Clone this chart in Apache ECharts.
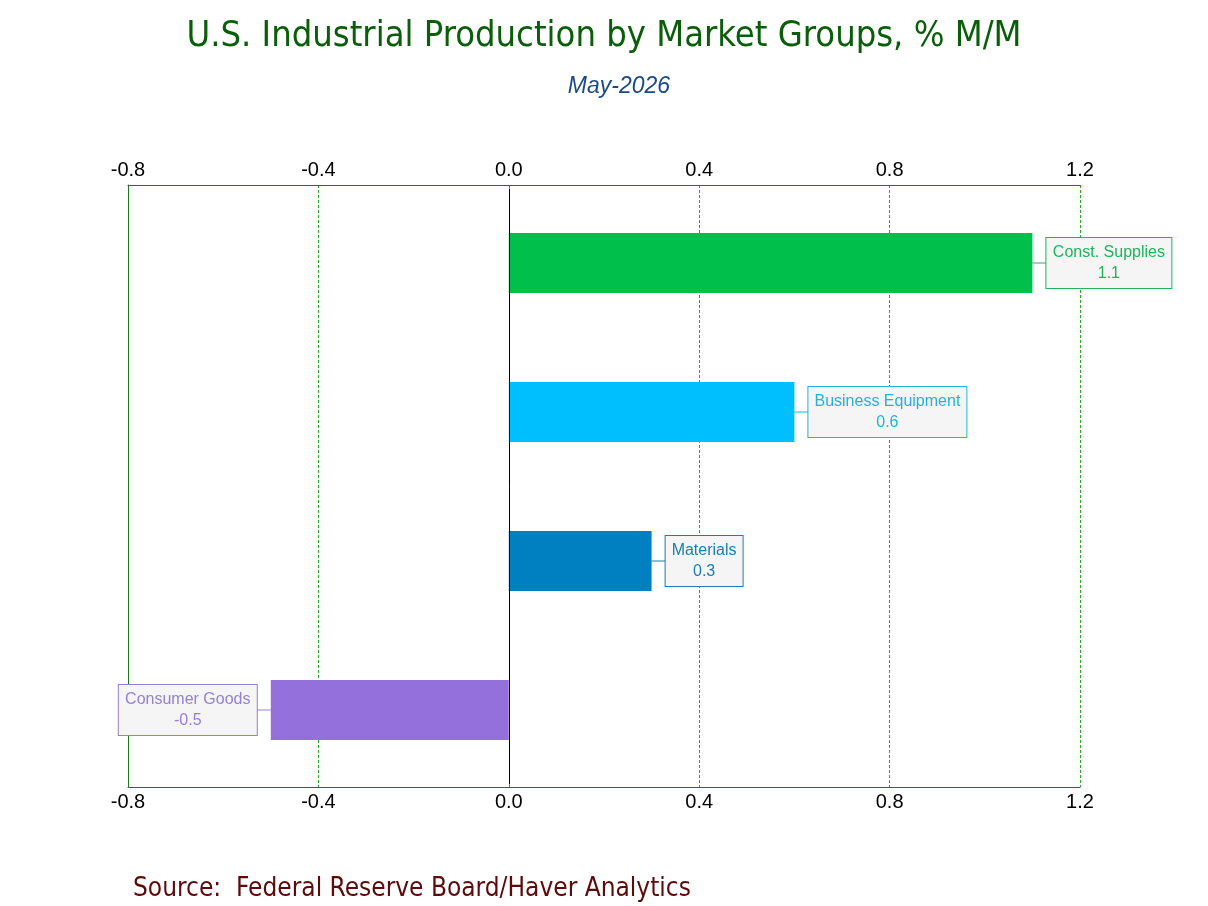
<!DOCTYPE html>
<html><head><meta charset="utf-8">
<script src="https://cdn.jsdelivr.net/npm/echarts@6/dist/echarts.min.js"></script>
<style>html,body{margin:0;padding:0;background:#fff}#c{width:1208px;height:906px}</style>
</head><body><div id="c"></div>
<script>
const categories = ['Const. Supplies', 'Business Equipment', 'Materials', 'Consumer Goods'];
const values = [1.1, 0.6, 0.3, -0.5];
const barColors = ['#00c04b', '#00bfff', '#0080c0', '#9370db'];
const labelColors = ['#22b25c', '#1fb4dc', '#1a7db5', '#9580d2'];
const xTicks = [-0.8, -0.4, 0.0, 0.4, 0.8, 1.2];

const chart = echarts.init(document.getElementById('c'));
const connector = 14;
const labelFont = 'Liberation Sans, Arial, sans-serif';
const labelSize = 16;

const ctx = document.createElement('canvas').getContext('2d');
ctx.font = labelSize + 'px ' + labelFont;
const measure = s => Math.ceil(ctx.measureText(s).width);

const axisLabel = { color: '#000', fontFamily: 'Liberation Sans, Arial', fontSize: 20, margin: 5,
  formatter: v => v.toFixed(1) };
const xMin = xTicks[0], xMax = xTicks[xTicks.length - 1];

chart.setOption({
  animation: false,
  title: [
    { text: 'U.S. Industrial Production by Market Groups, % M/M', left: 599, top: 14, textAlign: 'center',
      textStyle: { color: '#0a5e0a', fontFamily: 'DejaVu Sans Condensed', fontWeight: 'normal', fontSize: 36 } },
    { text: 'May-2026', left: 614, top: 70, textAlign: 'center',
      textStyle: { color: '#1b4a8a', fontFamily: 'Liberation Sans, Arial', fontStyle: 'italic', fontWeight: 'normal', fontSize: 23 } },
    { text: 'Source:  Federal Reserve Board/Haver Analytics', left: 128, top: 871,
      textStyle: { color: '#5c0a0a', fontFamily: 'DejaVu Sans Condensed', fontWeight: 'normal', fontSize: 26 } }
  ],
  grid: [
    { left: 128, right: 128, top: 185, bottom: 119 },
    { left: 128, right: 128, top: 188.5, bottom: 121.5 }
  ],
  xAxis: [
    { type: 'value', gridIndex: 0, min: xMin, max: xMax, interval: 0.4, position: 'bottom',
      axisTick: { show: false }, axisLabel: axisLabel,
      axisLine: { show: true, lineStyle: { color: '#1a7a1a', width: 1 } },
      splitLine: { show: true, lineStyle: { color: '#22aa22', type: [3, 2], width: 1 } } },
    { type: 'value', gridIndex: 0, min: xMin, max: xMax, interval: 0.4, position: 'top',
      axisTick: { show: false }, axisLabel: axisLabel,
      axisLine: { show: true, lineStyle: { color: '#1a7a1a', width: 1 } },
      splitLine: { show: false } },
    { type: 'value', gridIndex: 1, min: xMin, max: xMax, interval: 0.4, show: false }
  ],
  yAxis: [
    { type: 'category', gridIndex: 0, data: categories, inverse: true,
      axisLine: { show: true, onZero: false, lineStyle: { color: '#1a7a1a', width: 1 } },
      axisTick: { show: false }, axisLabel: { show: false }, splitLine: { show: false } },
    { type: 'category', gridIndex: 1, data: categories, inverse: true, show: false }
  ],
  series: [
    {
      type: 'custom', xAxisIndex: 2, yAxisIndex: 1, z: 1, silent: true,
      data: values.map((v, i) => [v, i]),
      renderItem: (params, api) => {
        const p = api.coord([api.value(0), api.value(1)]);
        const dir = api.value(0) >= 0 ? 1 : -1;
        return { type: 'line', shape: { x1: p[0], y1: p[1], x2: p[0] + dir * connector, y2: p[1] },
          style: { stroke: labelColors[params.dataIndex], lineWidth: 1 } };
      }
    },
    {
      type: 'bar', xAxisIndex: 2, yAxisIndex: 1, barWidth: 60, z: 3,
      data: values.map((v, i) => {
        const l1 = categories[i], l2 = v.toFixed(1);
        const w = Math.max(measure(l1), measure(l2));
        const st = { width: w, align: 'center', color: labelColors[i], fontFamily: labelFont,
          fontSize: labelSize, lineHeight: 21 };
        return {
          value: v,
          itemStyle: { color: barColors[i] },
          label: {
            show: true, position: v >= 0 ? 'right' : 'left', distance: connector,
            formatter: '{a|' + l1 + '}\n{a|' + l2 + '}',
            rich: { a: st },
            backgroundColor: '#f5f5f5', borderColor: labelColors[i], borderWidth: 1,
            padding: [4, 6, 4, 6]
          }
        };
      }),
      markLine: {
        silent: true, symbol: 'none', label: { show: false },
        lineStyle: { color: '#000', type: 'solid', width: 1 },
        data: [{ xAxis: 0 }]
      }
    }
  ]
});
</script></body></html>
